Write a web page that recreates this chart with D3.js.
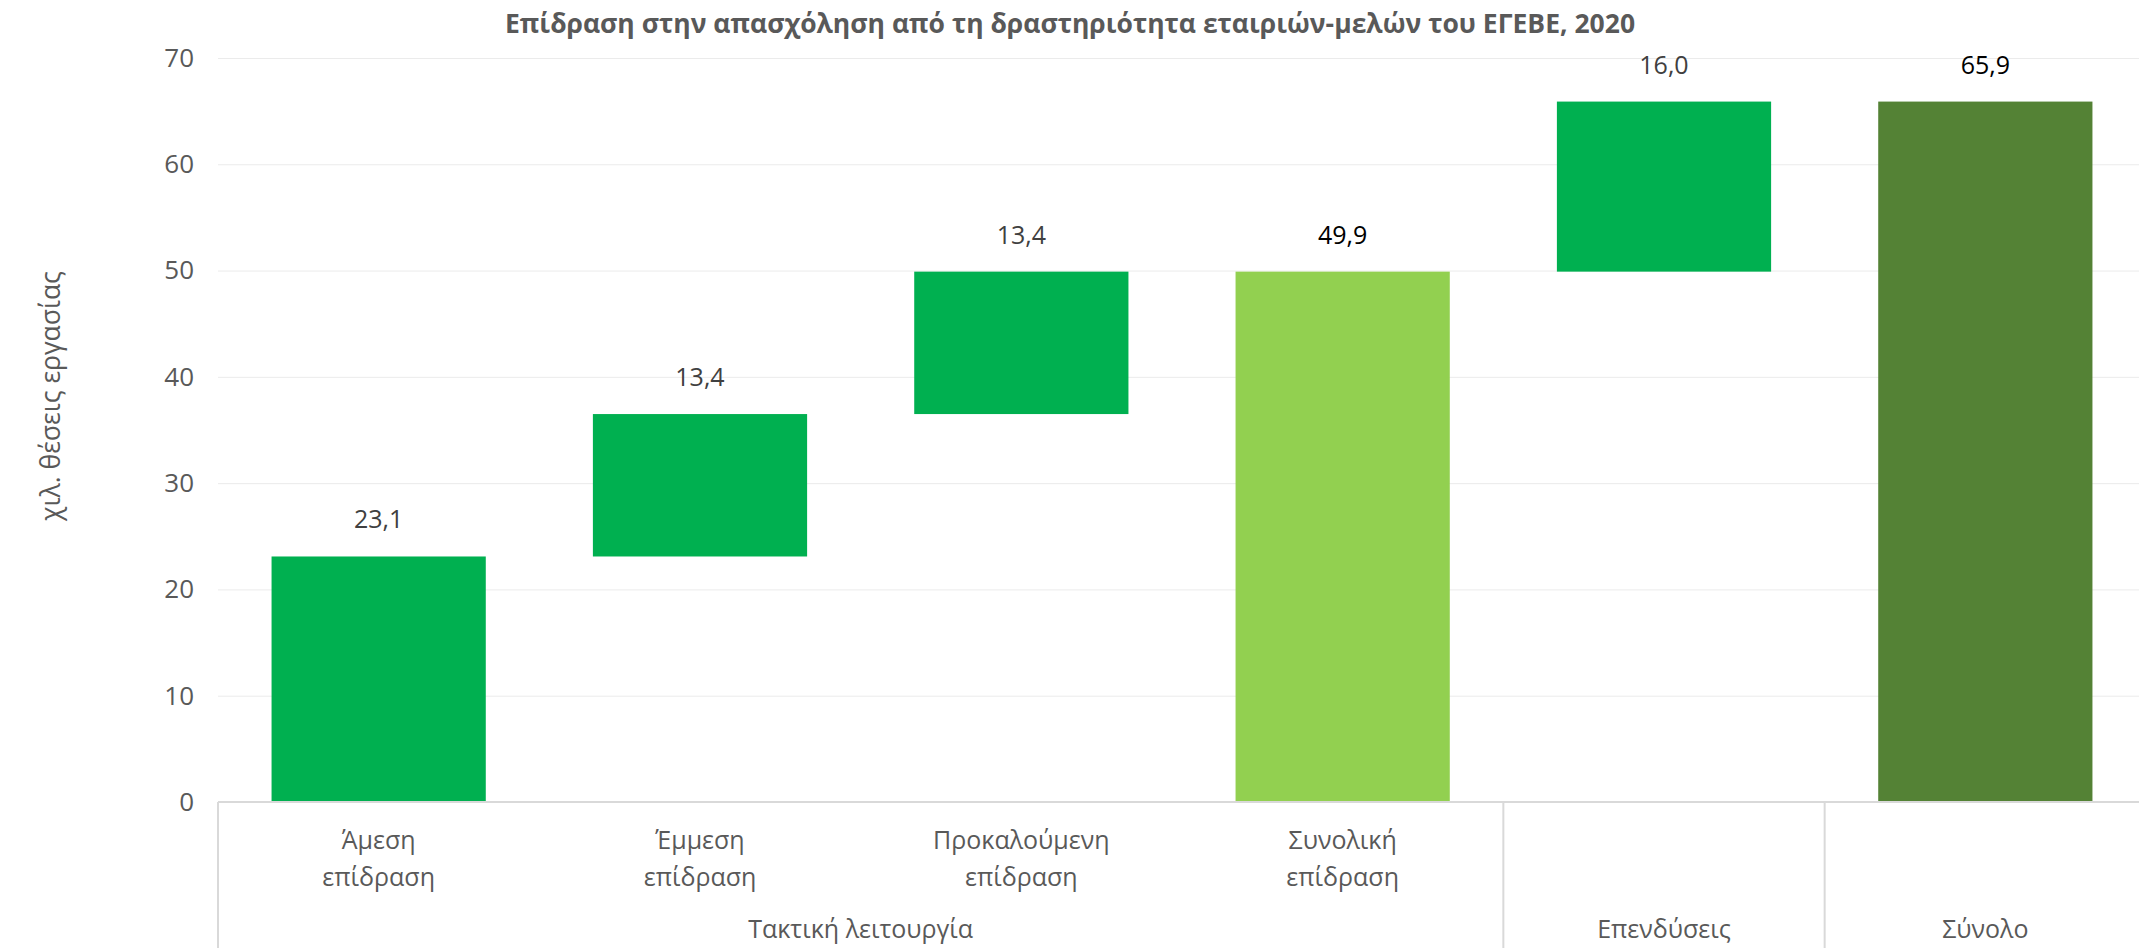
<!DOCTYPE html>
<html>
<head>
<meta charset="utf-8">
<script src="https://cdn.jsdelivr.net/npm/d3@7"></script>
<style>
    body { margin: 0; background: #fff; }
    text { font-family: "Open Sans", "DejaVu Sans", sans-serif; }
</style>
</head>
<body>
<script>
// chart values
let categoryLabels = [["Άμεση", "επίδραση"], ["Έμμεση", "επίδραση"], ["Προκαλούμενη", "επίδραση"],
    ["Συνολική", "επίδραση"], [], []];
let stepValues = [23.1, 13.4, 13.4, null, 16.0, null];
let stepTypes = ["increase", "increase", "increase", "subtotal", "increase", "total"];
let groupNames = ["Τακτική λειτουργία", "Επενδύσεις", "Σύνολο"];
let groupSpans = [4, 1, 1];
let yTicks = [0, 10, 20, 30, 40, 50, 60, 70];

let titleText = "Επίδραση στην απασχόληση από τη δραστηριότητα εταιριών-μελών του ΕΓΕΒΕ, 2020";
let yLabelText = "χιλ. θέσεις εργασίας";

let colors = {increase: "#00B050", subtotal: "#92D050", total: "#548235"};

let svgWidth = 2139,
    svgHeight = 948,
    plot = {left: 218, right: 2146, top: 58, bottom: 802};

let svg = d3.select("body").append("svg")
    .attr("width", svgWidth)
    .attr("height", svgHeight);

// build the waterfall rows (start / end of each bar)
let rows = [];
let running = 0;
stepValues.forEach((v, i) => {
    let type = stepTypes[i];
    if (type === "increase") {
        rows.push({i: i, type: type, y0: running, y1: running + v, label: v});
        running += v;
    } else {
        rows.push({i: i, type: type, y0: 0, y1: running, label: running});
    }
});

let xScale = d3.scaleBand()
    .domain(d3.range(stepValues.length))
    .range([plot.left, plot.right])
    .paddingInner(1 / 3)
    .paddingOuter(1 / 6);

let yScale = d3.scaleLinear()
    .domain([0, 70])
    .range([plot.bottom, plot.top]);

let fmt = v => d3.format(".1f")(v).replace(".", ",");

// title
svg.append("text")
    .attr("x", 1070)
    .attr("y", 33)
    .attr("text-anchor", "middle")
    .style("font-size", "26.5px")
    .style("font-weight", "bold")
    .style("fill", "#595959")
    .text(titleText);

// y axis + gridlines
let yAxis = d3.axisLeft(yScale)
    .tickValues(yTicks)
    .tickSize(-(svgWidth - plot.left))
    .tickPadding(24)
    .tickFormat(d3.format("d"));

let yG = svg.append("g")
    .attr("transform", "translate(" + plot.left + ",0)")
    .call(yAxis);
yG.select(".domain").remove();
yG.selectAll(".tick line")
    .attr("stroke", "#EBEBEB")
    .attr("stroke-width", 1);
yG.selectAll(".tick text")
    .style("font-size", "26px")
    .style("fill", "#595959")
    .attr("dy", "0.32em");

// y axis title
svg.append("text")
    .attr("transform", "translate(60," + 396 + ") rotate(-90)")
    .attr("text-anchor", "middle")
    .style("font-size", "26.5px")
    .style("fill", "#595959")
    .text(yLabelText);

// bars
svg.selectAll("rect.bar")
    .data(rows)
    .enter()
    .append("rect")
    .attr("class", "bar")
    .attr("x", d => xScale(d.i))
    .attr("width", xScale.bandwidth())
    .attr("y", d => yScale(d.y1))
    .attr("height", d => yScale(d.y0) - yScale(d.y1))
    .style("fill", d => colors[d.type]);

// data labels
svg.selectAll("text.value")
    .data(rows)
    .enter()
    .append("text")
    .attr("class", "value")
    .attr("x", d => xScale(d.i) + xScale.bandwidth() / 2)
    .attr("y", d => yScale(d.y1) - 28)
    .attr("text-anchor", "middle")
    .style("font-size", "25px")
    .style("fill", d => d.type === "increase" ? "#404040" : "#000000")
    .text(d => fmt(d.label));

// category axis line
svg.append("line")
    .attr("x1", plot.left)
    .attr("x2", plot.right)
    .attr("y1", plot.bottom)
    .attr("y2", plot.bottom)
    .attr("stroke", "#D9D9D9")
    .attr("stroke-width", 2);

// first level labels
let catG = svg.selectAll("text.cat")
    .data(categoryLabels)
    .enter()
    .append("text")
    .attr("class", "cat")
    .attr("text-anchor", "middle")
    .style("font-size", "25px")
    .style("fill", "#595959");
catG.each(function (lines, i) {
    let cx = xScale(i) + xScale.bandwidth() / 2;
    d3.select(this).selectAll("tspan")
        .data(lines)
        .enter()
        .append("tspan")
        .attr("x", cx)
        .attr("y", (d, j) => 849 + j * 37)
        .text(d => d);
});

// group labels and separators
let step = xScale.step();
let start = 0;
let bounds = [0];
groupNames.forEach((g, k) => {
    let x0 = plot.left + start * step;
    let x1 = plot.left + (start + groupSpans[k]) * step;
    svg.append("text")
        .attr("x", (x0 + x1) / 2)
        .attr("y", 938)
        .attr("text-anchor", "middle")
        .style("font-size", "25px")
        .style("fill", "#595959")
        .text(g);
    start += groupSpans[k];
    bounds.push(start);
});

svg.selectAll("line.sep")
    .data(bounds)
    .enter()
    .append("line")
    .attr("class", "sep")
    .attr("x1", d => plot.left + d * step)
    .attr("x2", d => plot.left + d * step)
    .attr("y1", plot.bottom)
    .attr("y2", svgHeight)
    .attr("stroke", "#D9D9D9")
    .attr("stroke-width", 2);
</script>
</body>
</html>
